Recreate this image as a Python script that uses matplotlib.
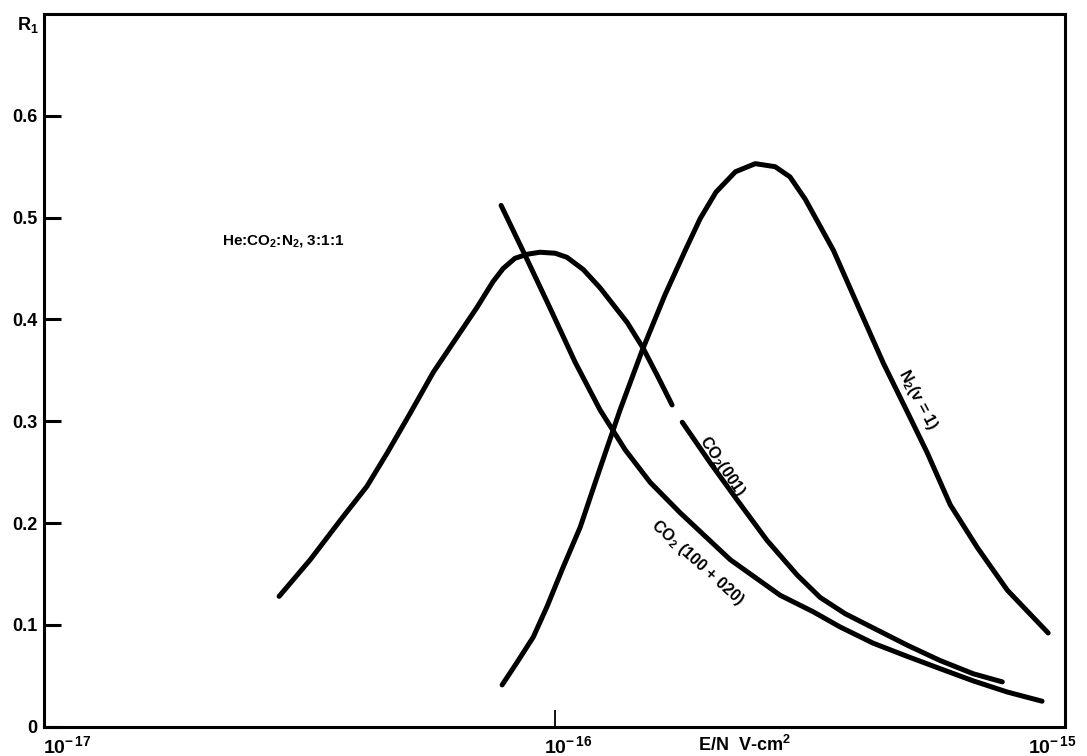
import numpy as np
import matplotlib
matplotlib.use("Agg")
import matplotlib.pyplot as plt
from matplotlib.ticker import NullLocator

plt.rcParams.update({
    "font.family": "Liberation Sans",
    "font.weight": "bold",
    "mathtext.fontset": "custom",
    "mathtext.rm": "Liberation Sans:bold",
    "mathtext.bf": "Liberation Sans:bold",
    "mathtext.it": "Liberation Sans:bold",
    "mathtext.default": "bf",
})

# log10(E/N [V cm^2]) and fractional power R_1
# CO2(001) is drawn in two pieces (gap where the label sits)
co2_001_log_a = [-16.540, -16.479, -16.415, -16.368, -16.328, -16.283, -16.238, -16.191,
                 -16.152, -16.121, -16.101, -16.078, -16.054, -16.029, -15.999, -15.976,
                 -15.944, -15.911, -15.858, -15.827, -15.797, -15.770]
co2_001_r_a = [0.128, 0.164, 0.206, 0.236, 0.269, 0.308, 0.348, 0.383,
               0.412, 0.437, 0.450, 0.460, 0.464, 0.466, 0.465, 0.461,
               0.449, 0.431, 0.397, 0.372, 0.343, 0.316]
co2_001_log_b = [-15.750, -15.695, -15.643, -15.584, -15.525, -15.480, -15.431, -15.376,
                 -15.309, -15.245, -15.180, -15.123]
co2_001_r_b = [0.299, 0.259, 0.223, 0.183, 0.149, 0.127, 0.111, 0.097,
               0.080, 0.065, 0.052, 0.044]

co2_100_log = [-16.105, -16.058, -16.009, -15.960, -15.911, -15.862, -15.813, -15.754,
               -15.656, -15.558, -15.494, -15.441, -15.376, -15.309, -15.245, -15.180,
               -15.113, -15.045]
co2_100_r = [0.512, 0.463, 0.411, 0.358, 0.311, 0.272, 0.240, 0.210,
             0.164, 0.129, 0.113, 0.098, 0.082, 0.069, 0.057, 0.045,
             0.034, 0.025]

n2_log = [-16.103, -16.074, -16.042, -16.015, -15.984, -15.950, -15.911, -15.872,
          -15.829, -15.784, -15.744, -15.715, -15.684, -15.646, -15.607, -15.568,
          -15.539, -15.509, -15.454, -15.402, -15.356, -15.304, -15.270, -15.225,
          -15.172, -15.113, -15.033]
n2_r = [0.041, 0.063, 0.088, 0.118, 0.156, 0.196, 0.254, 0.311,
        0.369, 0.424, 0.468, 0.499, 0.525, 0.545, 0.553, 0.550,
        0.540, 0.518, 0.468, 0.409, 0.357, 0.304, 0.269, 0.218,
        0.176, 0.134, 0.092]

y_ticks = [0, 0.1, 0.2, 0.3, 0.4, 0.5, 0.6]
y_labels = ["0", "0.1", "0.2", "0.3", "0.4", "0.5", "0.6"]
x_ticks = [1e-17, 1e-16, 1e-15]
x_labels = [r"10$^{-\,17}$", r"10$^{-\,16}$", r"10$^{-\,15}$"]

fig = plt.figure(figsize=(10.87, 7.56), dpi=100)
ax = fig.add_axes([0.0408, 0.0388, 0.9390, 0.9427])

for lx, ry in [(co2_001_log_a, co2_001_r_a), (co2_001_log_b, co2_001_r_b),
               (co2_100_log, co2_100_r), (n2_log, n2_r)]:
    ax.plot(10.0 ** np.array(lx), ry, color="black", lw=3.6,
            solid_capstyle="round", solid_joinstyle="round")

ax.set_xscale("log")
ax.set_xlim(1e-17, 1e-15)
ax.set_ylim(0, 0.7)
ax.xaxis.set_minor_locator(NullLocator())
ax.set_xticks([1e-16])
ax.set_xticklabels([])
ax.tick_params(axis="x", direction="in", length=12, width=1.3)
ax.set_yticks(y_ticks)
ax.set_yticklabels(y_labels, fontsize=13, fontweight="bold")
ax.tick_params(axis="y", direction="in", length=12, width=2.2, pad=5)
for s in ax.spines.values():
    s.set_linewidth(2.2)

# x tick labels placed by hand (they are not centred on the ticks)
offsets = [-1, -8, -27]
for xv, lab, dx in zip(x_ticks, x_labels, offsets):
    ax.annotate(lab, xy=(xv, 0), xycoords=("data", "axes fraction"),
                xytext=(dx, -19), textcoords="offset points",
                ha="left", va="baseline", fontsize=14, fontweight="bold",
                annotation_clip=False)

ax.text(10 ** -16.652, 0.477, r"He:CO$_2$:N$_2$, 3:1:1", fontsize=11,
        fontweight="bold", ha="left", va="center")
ax.text(10 ** -15.672, 0.256, r"CO$_2$(001)", fontsize=11.5, fontweight="bold",
        rotation=-56, ha="center", va="center", rotation_mode="anchor")
ax.text(10 ** -15.721, 0.161, r"CO$_2$ (100 + 020)", fontsize=11.5, fontweight="bold",
        rotation=-42, ha="center", va="center", rotation_mode="anchor")
ax.text(10 ** -15.288, 0.321, r"N$_2$(v = 1)", fontsize=11.5, fontweight="bold",
        rotation=-62, ha="center", va="center", rotation_mode="anchor")

fig.text(0.0156, 0.980, r"R$_1$", fontsize=13, fontweight="bold", ha="left", va="top")
fig.text(0.685, 0.0146, r"E/N  V-cm$^2$", fontsize=13, fontweight="bold",
         ha="center", va="center")

fig.savefig("out.png", dpi=100)
